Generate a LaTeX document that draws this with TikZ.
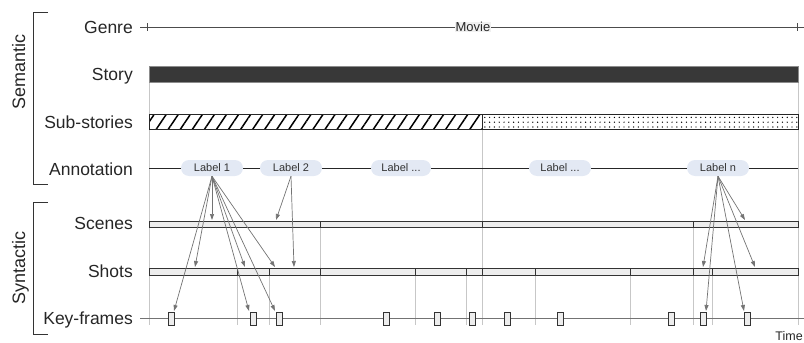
\documentclass[tikz,border=0pt]{standalone}
\usepackage{fontspec}
\setmainfont{Liberation Sans}
\usetikzlibrary{arrows.meta,patterns.meta}
\definecolor{lblue}{HTML}{E3E9F4}
\begin{document}
\begin{tikzpicture}[x=1pt,y=-1pt,
  rowlabel/.style={anchor=base east, font=\fontsize{17.5}{20}\selectfont, text=black!85, inner sep=0},
  grp/.style={rotate=90, anchor=base, font=\fontsize{18}{20}\selectfont, text=black!85, inner sep=0},
  bracket/.style={draw=black!80, line width=0.9pt},
  guide/.style={draw=black!22, line width=0.8pt},
  seg/.style={draw=black!80, fill=black!7, line width=1pt},
  kf/.style={draw=black!80, fill=black!7, line width=0.9pt, minimum width=6pt, minimum height=13pt, inner sep=0},
  lab/.style={fill=lblue, rounded corners=8pt, minimum width=62pt, minimum height=16pt, inner sep=0, font=\fontsize{11}{12}\selectfont, text=black!80},
  arr/.style={draw=black!55, line width=0.7pt, -{Triangle[length=6pt,width=4pt]}},
]
\useasboundingbox (0,0) rectangle (804,343);

% group brackets and titles
\draw[bracket] (48,12) -- (33,12) -- (33,184) -- (48,184);
\draw[bracket] (48,202) -- (33,202) -- (33,334) -- (48,334);
\node[grp] (sem) at (25,72) {Semantic};
\node[grp] (syn) at (25,268) {Syntactic};

% row labels
\node[rowlabel] (lgenre) at (133,33.3) {Genre};
\node[rowlabel] (lstory) at (133,80.3) {Story};
\node[rowlabel] (lsub) at (133,128.3) {Sub-stories};
\node[rowlabel] (lann) at (133,175.8) {Annotation};
\node[rowlabel] (lsce) at (133,229.8) {Scenes};
\node[rowlabel] (lsho) at (133,277.3) {Shots};
\node[rowlabel] (lkf) at (133,324.8) {Key-frames};

% guide lines
\draw[guide] (149,82) -- (149,325);
\draw[guide] (798,82) -- (798,325);
\draw[guide] (482,129) -- (482,325);
\foreach \x in {320,693} \draw[guide] (\x,227) -- (\x,325);
\foreach \x in {237,269,415,466,535,630,712} \draw[guide] (\x,275) -- (\x,325);

% genre
\coordinate (g0) at (140,27);
\coordinate (g1) at (804,27);
\draw[black!70, line width=0.8pt] (g0) -- (g1);
\draw[black!70, line width=0.8pt] (147,23) -- (147,31) (797,23) -- (797,31);
\node[fill=black!6, inner sep=0.6pt, font=\fontsize{13}{14}\selectfont, text=black!85] (movie) at (473,27) {Movie};

% story
\draw[draw=black!45, fill=black!78, line width=0.8pt] (149,66) rectangle (798,82);

% sub-stories
\draw[draw=black!85, line width=1pt, pattern={Lines[angle=56,distance=10pt,line width=1.5pt]}] (149,114.5) rectangle (482,129);
\draw[draw=black!85, line width=1pt, pattern={Dots[distance=4.8pt,radius=0.7pt]}] (482,114.5) rectangle (798,129);

% annotation
\coordinate (a0) at (149,168);
\coordinate (a1) at (798,168);
\draw[black!85, line width=1pt] (a0) -- (a1);
\node[lab] (l1) at (212,168) {Label 1};
\node[lab] (l2) at (291,168) {Label 2};
\node[lab, minimum width=60pt] (l3) at (401,168) {Label ...};
\node[lab] (l4) at (560,168) {Label ...};
\node[lab] (ln) at (718,168) {Label n};

% scenes
\foreach \a/\b in {149/320,320/482,482/693,693/798}
  \draw[seg] (\a,221) rectangle (\b,227.5);
% shots
\foreach \a/\b in {149/237,237/269,269/320,320/415,415/466,466/482,482/535,535/630,630/693,693/712,712/798}
  \draw[seg] (\a,268) rectangle (\b,275);

% key-frames
\coordinate (k0) at (140,318.5);
\coordinate (k1) at (804,318.5);
\draw[black!55, line width=1.2pt] (k0) -- (k1);
\foreach \x [count=\i] in {171,253,279,386,437,472,507,560,671,703,747}
  \node[kf] (kf\i) at (\x,318.5) {};

% arrow targets
\coordinate (t1a) at (174,311);
\coordinate (t1b) at (195,267);
\coordinate (t1c) at (212,220);
\coordinate (t1d) at (245,267);
\coordinate (t1e) at (249,311);
\coordinate (t1f) at (275,267);
\coordinate (t1g) at (275,311);
\coordinate (t2a) at (276,220);
\coordinate (t2b) at (294,267);
\coordinate (tna) at (745,220);
\coordinate (tnb) at (703,267);
\coordinate (tnc) at (755,267);
\coordinate (tnd) at (706,311);
\coordinate (tne) at (744,311);

\foreach \t in {t1a,t1b,t1c,t1d,t1e,t1f,t1g} \draw[arr] (l1.south) -- (\t);
\foreach \t in {t2a,t2b} \draw[arr] (l2.south) -- (\t);
\foreach \t in {tna,tnb,tnc,tnd,tne} \draw[arr] (ln.south) -- (\t);

% time
\node[anchor=base east, inner sep=0, font=\fontsize{12.5}{14}\selectfont, text=black!85] (time) at (803,340) {Time};
\end{tikzpicture}
\end{document}
